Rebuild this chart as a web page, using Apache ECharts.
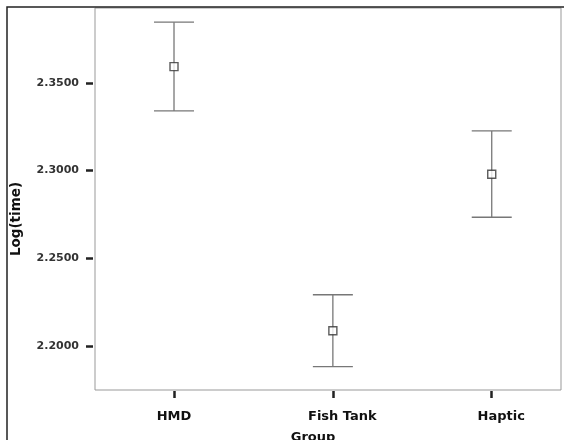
<!DOCTYPE html>
<html>
<head>
<meta charset="utf-8">
<script src="https://cdn.jsdelivr.net/npm/echarts@6/dist/echarts.min.js"></script>
<style>html,body{margin:0;padding:0;background:#fff;}#c{width:564px;height:440px;}</style>
</head>
<body>
<div id="c"></div>
<script>
const categories = ['HMD', 'Fish Tank', 'Haptic'];
const means = [2.3593, 2.2087, 2.2979];
const upper = [2.3846, 2.2292, 2.3226];
const lower = [2.3340, 2.1882, 2.2734];
const yTicks = [2.2000, 2.2500, 2.3000, 2.3500];
const xTicks = [1, 2, 3];

const chart = echarts.init(document.getElementById('c'), null, {renderer: 'canvas'});

const errData = categories.map((c, i) => [i + 1, lower[i], upper[i]]);
const meanData = categories.map((c, i) => [i + 1, means[i]]);

const labelShift = [0, 19, 19];

chart.setOption({
  animation: false,
  backgroundColor: '#fff',
  grid: {left: 95, right: 3, top: 8, bottom: 50, show: true, borderColor: '#999', borderWidth: 1, backgroundColor: 'transparent', containLabel: false, outerBoundsMode: 'none'},
  graphic: [{
    type: 'rect', silent: true, z: 100,
    shape: {x: 7, y: 7, width: 700, height: 600},
    style: {fill: null, stroke: '#222', lineWidth: 1.5}
  }],
  xAxis: {
    type: 'value', min: 0.5027, max: 3.436, offset: 1,
    name: 'Group', nameLocation: 'middle', nameGap: 40,
    nameTextStyle: {fontFamily: 'DejaVu Sans', fontWeight: 'bold', fontSize: 13, color: '#111', padding: [0, 30, 0, 0]},
    axisLine: {show: false},
    splitLine: {show: false},
    axisTick: {show: true, customValues: xTicks, length: 7, lineStyle: {color: '#222', width: 2.5}},
    axisLabel: {
      customValues: xTicks, margin: 19,
      fontFamily: 'DejaVu Sans', fontWeight: 'bold', fontSize: 13, color: '#111',
      formatter: v => '{c' + (v - 1) + '|' + categories[v - 1] + '}',
      rich: {
        c0: {fontFamily: 'DejaVu Sans', fontWeight: 'bold', fontSize: 13, color: '#111', padding: [0, 0, 0, labelShift[0]]},
        c1: {fontFamily: 'DejaVu Sans', fontWeight: 'bold', fontSize: 13, color: '#111', padding: [0, 0, 0, labelShift[1]]},
        c2: {fontFamily: 'DejaVu Sans', fontWeight: 'bold', fontSize: 13, color: '#111', padding: [0, 0, 0, labelShift[2]]}
      }
    }
  },
  yAxis: {
    type: 'value', min: 2.1749, max: 2.3927, offset: 2,
    name: 'Log(time)', nameLocation: 'middle', nameGap: 70, nameRotate: 90,
    nameTextStyle: {fontFamily: 'DejaVu Sans', fontWeight: 'bold', fontSize: 13.5, color: '#111', padding: [0, 40, 0, 0]},
    axisLine: {show: false},
    splitLine: {show: false},
    axisTick: {show: true, customValues: yTicks, length: 7, lineStyle: {color: '#222', width: 2.5}},
    axisLabel: {
      customValues: yTicks, margin: 14,
      fontFamily: 'DejaVu Sans', fontWeight: 'bold', fontSize: 11, color: '#333',
      formatter: v => v.toFixed(4)
    }
  },
  series: [{
    type: 'custom',
    data: errData,
    encode: {x: 0, y: [1, 2]},
    z: 2,
    renderItem: function (params, api) {
      const x = api.value(0);
      const lo = api.coord([x, api.value(1)]);
      const hi = api.coord([x, api.value(2)]);
      const hw = 20;
      const style = {stroke: '#777', lineWidth: 1.3};
      return {
        type: 'group',
        children: [
          {type: 'line', shape: {x1: lo[0], y1: lo[1], x2: hi[0], y2: hi[1]}, style: style},
          {type: 'line', shape: {x1: hi[0] - hw, y1: hi[1], x2: hi[0] + hw, y2: hi[1]}, style: style},
          {type: 'line', shape: {x1: lo[0] - hw, y1: lo[1], x2: lo[0] + hw, y2: lo[1]}, style: style}
        ]
      };
    }
  }, {
    type: 'scatter',
    data: meanData,
    symbol: 'rect',
    symbolSize: 8,
    z: 3,
    itemStyle: {color: '#fff', borderColor: '#333', borderWidth: 1.4}
  }]
});
</script>
</body>
</html>
